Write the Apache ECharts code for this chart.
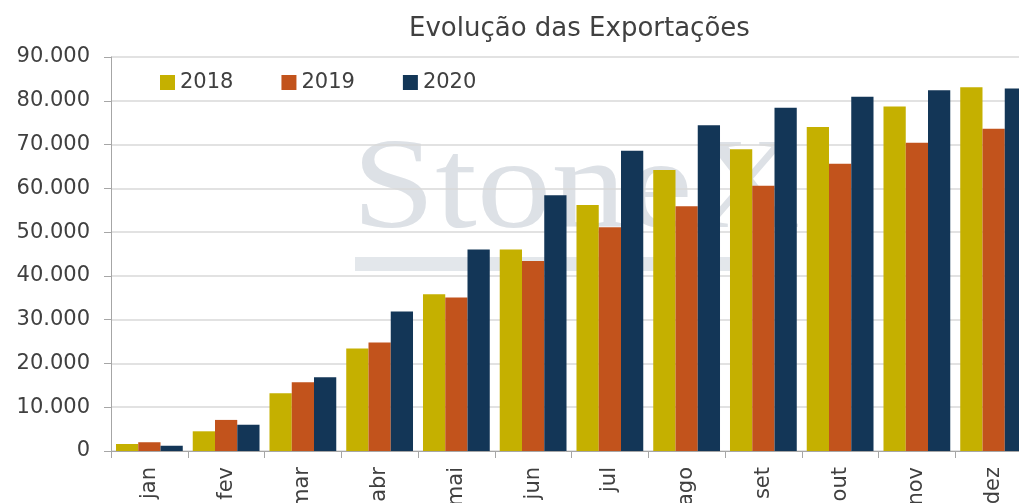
<!DOCTYPE html>
<html>
<head>
<meta charset="utf-8">
<script src="https://cdn.jsdelivr.net/npm/echarts@6/dist/echarts.min.js"></script>
<style>
  html, body { margin: 0; padding: 0; background: #fff; }
  #chart { width: 1019px; height: 503px; }
</style>
</head>
<body>
<div id="chart"></div>
<script>
const months = ["jan", "fev", "mar", "abr", "mai", "jun", "jul", "ago", "set", "out", "nov", "dez"];
const exp2018 = [1600, 4500, 13200, 23400, 35800, 46000, 56200, 64200, 68900, 74000, 78700, 83100];
const exp2019 = [2000, 7100, 15700, 24800, 35050, 43400, 51100, 55900, 60600, 65600, 70400, 73600];
const exp2020 = [1200, 6000, 16850, 31850, 46000, 58400, 68600, 74400, 78400, 80900, 82400, 82800];
const yTicks = [0, 10000, 20000, 30000, 40000, 50000, 60000, 70000, 80000, 90000];

const labelColor = "#404040";
const font = "DejaVu Sans";

const chart = echarts.init(document.getElementById("chart"), null, { renderer: "canvas" });

const fmt = (v) => v === 0 ? "0" : v.toLocaleString("de-DE");

chart.setOption({
  animation: false,
  backgroundColor: "#fff",
  textStyle: { fontFamily: font },
  title: {
    text: "Evolução das Exportações",
    left: 404,
    top: 11,
    textStyle: { fontFamily: font, fontSize: 26, fontWeight: "normal", color: "#404040" },
  },
  graphic: [
    {
      type: "text",
      left: 352,
      top: 128,
      z: -10,
      silent: true,
      scaleX: 1.15,
      style: {
        text: "StoneX",
        font: "130px 'Liberation Serif'",
        fill: "#dde1e6",
      },
    },
    {
      type: "rect",
      left: 355,
      top: 257,
      z: -10,
      silent: true,
      shape: { width: 375, height: 14 },
      style: { fill: "#e3e7eb" },
    },
  ],
  legend: {
    data: ["2018", "2019", "2020"],
    left: 155,
    top: 67,
    icon: "rect",
    itemWidth: 15,
    itemHeight: 15,
    itemGap: 48,
    textStyle: { fontFamily: font, fontSize: 21, color: labelColor },
  },
  grid: {
    left: 111,
    right: -13,
    top: 57,
    bottom: 52,
    outerBoundsMode: "none",
    containLabel: false,
  },
  xAxis: {
    type: "category",
    data: months,
    axisLine: { lineStyle: { color: "#a6a6a6", width: 1 } },
    axisTick: { show: true, length: 7, lineStyle: { color: "#a6a6a6" } },
    axisLabel: {
      rotate: 90,
      margin: 16,
      fontSize: 21,
      color: labelColor,
      fontFamily: font,
    },
    splitLine: { show: false },
  },
  yAxis: {
    type: "value",
    min: yTicks[0],
    max: yTicks[yTicks.length - 1],
    interval: 10000,
    axisLine: { show: true, lineStyle: { color: "#a6a6a6", width: 1 } },
    axisTick: { show: true, length: 7, lineStyle: { color: "#a6a6a6" } },
    axisLabel: {
      margin: 21,
      fontSize: 21,
      color: labelColor,
      fontFamily: font,
      formatter: fmt,
    },
    splitLine: { lineStyle: { color: "#d9d9d9", width: 1.5 } },
  },
  series: [
    {
      name: "2018",
      type: "bar",
      data: exp2018,
      barGap: "0%",
      barCategoryGap: "13%",
      itemStyle: { color: "#c5b000" },
    },
    {
      name: "2019",
      type: "bar",
      data: exp2019,
      itemStyle: { color: "#c2531c" },
    },
    {
      name: "2020",
      type: "bar",
      data: exp2020,
      itemStyle: { color: "#133657" },
    },
  ],
});
</script>
</body>
</html>
